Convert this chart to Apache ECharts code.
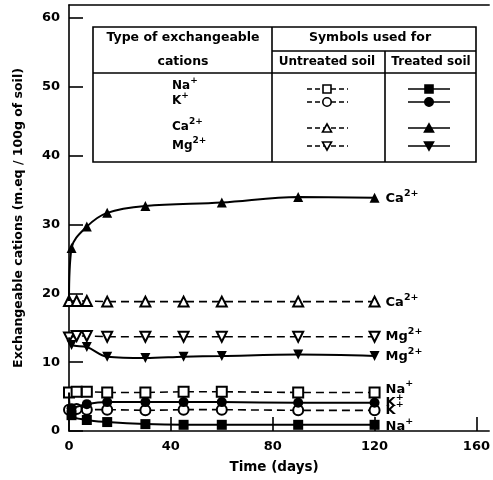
<!DOCTYPE html>
<html>
<head>
<meta charset="utf-8">
<script src="https://cdn.jsdelivr.net/npm/echarts@6/dist/echarts.min.js"></script>
<style>html,body{margin:0;padding:0;background:#fff}#c{width:493px;height:480px}</style>
</head>
<body>
<div id="c"></div>
<script>
// ---- data ----
const untreatedDays = [0, 3, 7, 15, 30, 45, 60, 90, 120];
const naUntreated = [5.6, 5.7, 5.7, 5.6, 5.6, 5.7, 5.7, 5.6, 5.6];
const kUntreated  = [3.1, 3.2, 3.1, 3.1, 3.0, 3.1, 3.1, 3.0, 3.0];
const caUntreated = [18.9, 18.9, 18.9, 18.8, 18.8, 18.8, 18.8, 18.8, 18.8];
const mgUntreated = [13.6, 13.8, 13.8, 13.7, 13.7, 13.7, 13.7, 13.7, 13.7];

const treatedDays = [0, 1, 7, 15, 30, 45, 60, 90, 120];
const naTreated = [5.6, 2.3, 1.6, 1.3, 1.0, 0.9, 0.9, 0.9, 0.9];
const kTreated  = [3.1, 3.3, 3.9, 4.2, 4.2, 4.2, 4.2, 4.1, 4.1];
const mgTreated = [13.6, 12.5, 12.2, 10.8, 10.6, 10.8, 10.9, 11.1, 10.9];
const caTreatedDays = [0, 1, 7, 15, 30, 60, 90, 120];
const caTreated = [18.9, 26.6, 29.7, 31.7, 32.7, 33.2, 34.0, 33.9];

const xTicks = [0, 40, 80, 120, 160];
const yTicks = [0, 10, 20, 30, 40, 50, 60];

// ---- chart ----
const FONT = 'DejaVu Sans';
const chart = echarts.init(document.getElementById('c'), null, {renderer: 'canvas'});

function pts(days, vals, firstNoSymbol) {
  return days.map((d, i) => {
    const item = {value: [d, vals[i]]};
    if (firstNoSymbol && i === 0) item.symbol = 'none';
    return item;
  });
}
const labRich = {
  b: {fontFamily: FONT, fontWeight: 'bold', fontSize: 13, color: '#000', lineHeight: 17, verticalAlign: 'bottom'},
  s: {fontFamily: FONT, fontWeight: 'bold', fontSize: 9.5, color: '#000', lineHeight: 17, verticalAlign: 'top'}
};
function endLab(text, dy) {
  return {show: true, formatter: text, rich: labRich, offset: [3, dy], distance: 8};
}

function untreated(name, vals, sym, lab, dy, rot) {
  return {
    type: 'line', name: name, data: pts(untreatedDays, vals, false),
    symbol: sym, symbolSize: 10, symbolRotate: rot || 0,
    lineStyle: {color: '#000', width: 1.6, type: [8, 5]},
    itemStyle: {color: '#000', borderWidth: 1.6},
    endLabel: endLab(lab, dy), z: 3
  };
}
function treated(name, days, vals, sym, lab, dy, rot) {
  return {
    type: 'line', name: name, data: pts(days, vals, true),
    symbol: sym, symbolSize: 10, symbolRotate: rot || 0,
    smooth: 0.35,
    lineStyle: {color: '#000', width: 2},
    itemStyle: {color: '#000'},
    endLabel: endLab(lab, dy), z: 4
  };
}

const L = 93, R = 476, T = 27, B = 162, C1 = 272, C2 = 385, H1 = 51, H2 = 73;
const lineStyle = {stroke: '#000', lineWidth: 1.6};
function ln(x1, y1, x2, y2, dash) {
  return {type: 'line', shape: {x1, y1, x2, y2}, style: Object.assign({}, lineStyle, dash ? {lineDash: [5, 3]} : {}), silent: true};
}
function txt(x, y, text, align, size) {
  return {type: 'text', x, y, style: {text, fontFamily: FONT, fontWeight: 'bold', fontSize: size || 12, fill: '#000', align: align || 'center', verticalAlign: 'middle'}, silent: true};
}
function richTxt(x, y, text) {
  return {type: 'text', x, y, style: {text, rich: {
    b: {fontFamily: FONT, fontWeight: 'bold', fontSize: 12, fill: '#000', lineHeight: 15, verticalAlign: 'bottom'},
    s: {fontFamily: FONT, fontWeight: 'bold', fontSize: 9, fill: '#000', lineHeight: 15, verticalAlign: 'top'}
  }, align: 'left', verticalAlign: 'middle'}, silent: true};
}
function legSym(cx, cy, kind, filled, rot) {
  const style = {fill: filled ? '#000' : '#fff', stroke: '#000', lineWidth: 1.6};
  if (kind === 'rect') return {type: 'rect', shape: {x: cx - 4, y: cy - 4, width: 8, height: 8}, style};
  if (kind === 'circle') return {type: 'circle', shape: {cx, cy, r: 4.2}, style};
  const h = 8, w = 9;
  const p = rot ? [[cx - w / 2, cy - h / 2], [cx + w / 2, cy - h / 2], [cx, cy + h / 2]]
               : [[cx - w / 2, cy + h / 2], [cx + w / 2, cy + h / 2], [cx, cy - h / 2]];
  return {type: 'polygon', shape: {points: p}, style};
}
const rows = [
  {y: 89, lab: '{b|Na}{s|+}', ly: 84, kind: 'rect'},
  {y: 102, lab: '{b|K}{s|+}', ly: 99, kind: 'circle'},
  {y: 128, lab: '{b|Ca}{s|2+}', ly: 125, kind: 'tri'},
  {y: 146, lab: '{b|Mg}{s|2+}', ly: 144, kind: 'tri', rot: true}
];
const graphics = [
  {type: 'rect', shape: {x: L, y: T, width: R - L, height: B - T}, style: {fill: '#fff', stroke: '#000', lineWidth: 1.6}, z: 10, silent: true},
  ln(C1, T, C1, B), ln(C2, H1, C2, B), ln(C1, H1, R, H1), ln(L, H2, R, H2),
  txt(183, 38, 'Type of exchangeable', 'center', 12.5),
  txt(183, 62, 'cations', 'center', 12.5),
  txt(370, 38, 'Symbols used for', 'center', 12.5),
  txt(327, 62, 'Untreated soil', 'center', 12),
  txt(431, 62, 'Treated soil', 'center', 12)
];
rows.forEach(r => {
  graphics.push(richTxt(172, r.ly, r.lab));
  graphics.push(ln(307, r.y, 348, r.y, true));
  graphics.push(legSym(327, r.y, r.kind, false, r.rot));
  graphics.push(ln(408, r.y, 450, r.y, false));
  graphics.push(legSym(429, r.y, r.kind, true, r.rot));
});
graphics.forEach(g => { if (g.z === undefined) g.z = 11; });

const option = {
  animation: false,
  backgroundColor: '#fff',
  grid: {left: 69, right: 1, top: 5, bottom: 49},
  xAxis: [{
    type: 'value', min: 0, max: 165, position: 'bottom',
    name: 'Time (days)', nameLocation: 'middle', nameGap: 29,
    nameTextStyle: {fontFamily: FONT, fontWeight: 'bold', fontSize: 13.5, color: '#000', padding: [0, 10, 0, 0]},
    axisLine: {show: true, onZero: false, lineStyle: {color: '#000', width: 1.6}},
    axisTick: {show: true, inside: true, length: 14, customValues: xTicks, lineStyle: {color: '#000', width: 1.6}},
    axisLabel: {show: true, customValues: xTicks, margin: 9, fontFamily: FONT, fontWeight: 'bold', fontSize: 13, color: '#000'},
    splitLine: {show: false}
  }, {
    type: 'value', min: 0, max: 165, position: 'top',
    axisLine: {show: true, onZero: false, lineStyle: {color: '#000', width: 1.6}},
    axisTick: {show: false}, axisLabel: {show: false}, splitLine: {show: false}
  }],
  yAxis: {
    type: 'value', min: 0, max: 61.9,
    name: 'Exchangeable cations (m.eq / 100g of soil)', nameLocation: 'middle', nameGap: 44,
    nameTextStyle: {fontFamily: FONT, fontWeight: 'bold', fontSize: 12.5, color: '#000'},
    axisLine: {show: true, onZero: false, lineStyle: {color: '#000', width: 1.6}},
    axisTick: {show: true, inside: true, length: 14, customValues: yTicks, lineStyle: {color: '#000', width: 1.6}},
    axisLabel: {show: true, customValues: yTicks, margin: 9, fontFamily: FONT, fontWeight: 'bold', fontSize: 13, color: '#000'},
    splitLine: {show: false}
  },
  series: [
    untreated('Na+ untreated', naUntreated, 'emptyRect', '{b|Na}{s|+}', -5),
    untreated('K+ untreated', kUntreated, 'emptyCircle', '{b|K}{s|+}', -2),
    untreated('Ca2+ untreated', caUntreated, 'emptyTriangle', '{b|Ca}{s|2+}', -1),
    untreated('Mg2+ untreated', mgUntreated, 'emptyTriangle', '{b|Mg}{s|2+}', -2, 180),
    treated('Na+ treated', treatedDays, naTreated, 'rect', '{b|Na}{s|+}', 0),
    treated('K+ treated', treatedDays, kTreated, 'circle', '{b|K}{s|+}', -2),
    treated('Ca2+ treated', caTreatedDays, caTreated, 'triangle', '{b|Ca}{s|2+}', -1),
    treated('Mg2+ treated', treatedDays, mgTreated, 'triangle', '{b|Mg}{s|2+}', -1, 180)
  ],
  graphic: graphics
};
chart.setOption(option);
</script>
</body>
</html>
